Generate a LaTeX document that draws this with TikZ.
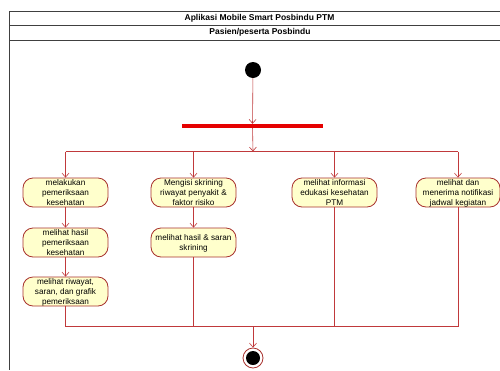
\documentclass[tikz,border=0pt]{standalone}
\usepackage{fontspec}
\setmainfont{Liberation Sans}
\usetikzlibrary{arrows.meta}
\definecolor{lnred}{HTML}{C0393B}
\definecolor{bxborder}{HTML}{A8322E}
\definecolor{bxfill}{HTML}{FFFFCC}
\definecolor{frame}{HTML}{404040}
\begin{document}
\begin{tikzpicture}[x=1pt,y=-1pt,
  act/.style={draw=bxborder, fill=bxfill, rounded corners=10pt, line width=0.8pt,
    minimum width=85pt, minimum height=29pt, inner sep=0pt, align=center,
    font=\fontsize{8.2}{9.8}\selectfont, text depth=0pt},
  flow/.style={draw=lnred, line width=0.6pt},
  arr/.style={flow, -{Straight Barb[length=4pt,width=7pt]}},
  hdr/.style={font=\fontsize{8.5}{10}\selectfont\bfseries, inner sep=0pt}]
\useasboundingbox (0,0) rectangle (500,370);
\fill[white] (0,0) rectangle (500,370);
% frame
\draw[frame, line width=0.7pt] (500,11) -- (9,11) -- (9,370);
\draw[frame, line width=0.7pt] (9,25) -- (500,25);
\draw[frame, line width=0.7pt] (9,40) -- (500,40);
\node[hdr] (title) at (259.5,18) {Aplikasi Mobile Smart Posbindu PTM};
\node[hdr] (lane) at (260,32.5) {Pasien/peserta Posbindu};
% start and fork
\node[circle, fill=black, minimum size=16pt, inner sep=0pt] (start) at (253,70) {};
\node[fill=red!90!black, minimum width=141pt, minimum height=4pt, inner sep=0pt] (fork) at (252.5,126) {};
% activities
\node[act] (a1) at (65.5,192.5) {melakukan\\pemeriksaan\\kesehatan};
\node[act] (a2) at (65.5,242.5) {melihat hasil\\pemeriksaan\\kesehatan};
\node[act] (a3) at (65.5,291.5) {melihat riwayat,\\saran, dan grafik\\pemeriksaan};
\node[act] (b1) at (193.5,192.5) {Mengisi skrining\\riwayat penyakit \&\\faktor risiko};
\node[act] (b2) at (193.5,242.5) {melihat hasil \& saran\\skrining};
\node[act] (c1) at (334.5,192.5) {melihat informasi\\edukasi kesehatan\\PTM};
\node[act, minimum width=84pt] (d1) at (458,192.5) {melihat dan\\menerima notifikasi\\jadwal kegiatan};
% end
\node[circle, draw=bxborder, line width=0.8pt, fill=white, minimum size=20pt, inner sep=0pt] (end) at (253,358) {};
\node[circle, fill=black, minimum size=14pt, inner sep=0pt] (endin) at (253,358) {};
% coordinates
\coordinate (fsplit) at (253,151.5);
\coordinate (s1) at (65.5,151.5);
\coordinate (s2) at (193.5,151.5);
\coordinate (s3) at (334.5,151.5);
\coordinate (s4) at (458,151.5);
\coordinate (j1) at (65.5,326);
\coordinate (j2) at (193.5,326);
\coordinate (j3) at (334.5,326);
\coordinate (j4) at (458,326);
\coordinate (jm) at (253,326);
% connectors
\draw[arr] (start) -- (fork);
\draw[arr] (fork) -- (fsplit);
\draw[flow] (s1) -- (s4);
\draw[arr] (s1) -- (a1);
\draw[arr] (s2) -- (b1);
\draw[arr] (s3) -- (c1);
\draw[arr] (s4) -- (d1);
\draw[arr] (a1) -- (a2);
\draw[arr] (a2) -- (a3);
\draw[arr] (b1) -- (b2);
\draw[flow] (a3) -- (j1) -- (j4) -- (d1);
\draw[flow] (b2) -- (j2);
\draw[flow] (c1) -- (j3);
\draw[arr] (jm) -- (end);
\end{tikzpicture}
\end{document}
